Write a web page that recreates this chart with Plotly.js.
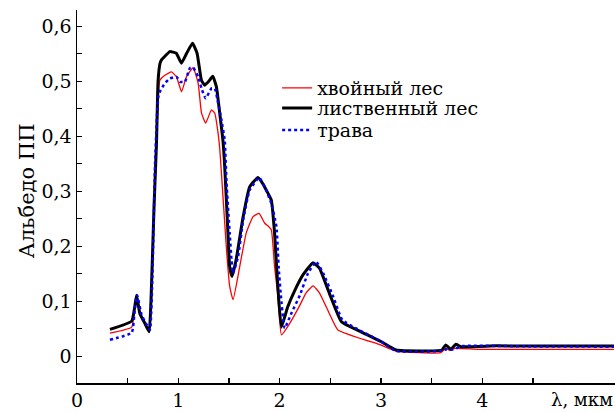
<!DOCTYPE html>
<html>
<head>
<meta charset="utf-8">
<script src="https://cdn.plot.ly/plotly-3.0.1.min.js"></script>
<style>html,body{margin:0;padding:0;background:#fff;}#chart{width:615px;height:412px;}</style>
</head>
<body>
<div id="chart"></div>
<script>
// Wavelength (µm) and albedo for each surface type
const xConifer = [0.325,0.54,0.57,0.59,0.62,0.67,0.713,0.735,0.76,0.785,0.80,0.818,0.867,0.933,0.982,1.032,1.08,1.146,1.196,1.229,1.27,1.327,1.36,1.393,1.41,1.443,1.476,1.507,1.54,1.606,1.67,1.738,1.797,1.853,1.886,1.918,1.95,1.98,2.018,2.10,2.2,2.26,2.33,2.394,2.49,2.575,3.0,3.15,3.59,3.64,3.68,3.73,3.97,5.3];
const yConifer = [0.042,0.053,0.09,0.11,0.076,0.058,0.043,0.10,0.26,0.38,0.46,0.502,0.511,0.517,0.508,0.481,0.508,0.525,0.496,0.442,0.424,0.448,0.442,0.405,0.375,0.284,0.193,0.127,0.103,0.163,0.224,0.254,0.26,0.242,0.237,0.23,0.163,0.115,0.039,0.06,0.093,0.115,0.128,0.115,0.078,0.048,0.0205,0.0096,0.0066,0.0145,0.011,0.0145,0.0127,0.0127];

const xDeciduous = [0.325,0.54,0.57,0.588,0.62,0.67,0.712,0.73,0.76,0.785,0.80,0.82,0.834,0.87,0.916,0.98,1.03,1.08,1.14,1.185,1.228,1.26,1.30,1.34,1.376,1.41,1.44,1.458,1.49,1.507,1.53,1.57,1.64,1.704,1.786,1.83,1.869,1.918,1.95,1.98,2.017,2.08,2.15,2.23,2.33,2.394,2.49,2.61,2.8,3.0,3.15,3.6,3.64,3.69,3.74,3.79,4.14,4.63,5.3];
const yDeciduous = [0.049,0.064,0.09,0.111,0.078,0.06,0.045,0.10,0.27,0.39,0.50,0.533,0.539,0.546,0.554,0.551,0.533,0.55,0.569,0.551,0.502,0.493,0.50,0.509,0.49,0.44,0.393,0.345,0.224,0.163,0.145,0.175,0.254,0.308,0.325,0.315,0.302,0.284,0.224,0.133,0.053,0.09,0.12,0.148,0.170,0.16,0.115,0.063,0.045,0.027,0.0115,0.0115,0.0205,0.0127,0.022,0.0175,0.019,0.0187,0.0187];

const xGrass = [0.325,0.54,0.57,0.594,0.638,0.68,0.72,0.745,0.77,0.79,0.803,0.825,0.867,0.916,0.982,1.02,1.065,1.114,1.146,1.196,1.229,1.27,1.327,1.36,1.393,1.425,1.458,1.476,1.507,1.525,1.54,1.59,1.64,1.704,1.797,1.853,1.918,1.968,1.99,2.01,2.05,2.115,2.2,2.28,2.36,2.43,2.53,2.62,3.0,3.15,3.58,3.65,3.70,3.81,4.5,5.3];
const yGrass = [0.03,0.043,0.085,0.111,0.075,0.06,0.048,0.15,0.35,0.44,0.472,0.484,0.496,0.505,0.508,0.499,0.499,0.524,0.525,0.508,0.487,0.469,0.487,0.487,0.46,0.43,0.393,0.315,0.224,0.175,0.151,0.181,0.248,0.302,0.325,0.308,0.278,0.236,0.163,0.115,0.051,0.078,0.111,0.151,0.172,0.151,0.108,0.066,0.027,0.0096,0.0096,0.013,0.012,0.0187,0.018,0.0175];

const seriesNames = ['хвойный лес','лиственный лес','трава'];
const xTickVals = [0,1,2,3,4];
const xTickText = ['0','1','2','3','4'];
const yTickVals = [0,0.1,0.2,0.3,0.4,0.5,0.6];
const yTickText = ['0','0,1','0,2','0,3','0,4','0,5','0,6'];

const FONT = "'DejaVu Serif', 'Liberation Serif', serif";

const traces = [
  {x:xConifer, y:yConifer, name:seriesNames[0], legend:'legend', mode:'lines', line:{color:'#ff0000', width:1.3, shape:'spline', smoothing:0.4}},
  {x:xDeciduous, y:yDeciduous, name:seriesNames[1], legend:'legend2', mode:'lines', line:{color:'#000000', width:3, shape:'spline', smoothing:0.4}},
  {x:xGrass, y:yGrass, name:seriesNames[2], legend:'legend3', mode:'lines', line:{color:'#0000ff', width:2.5, dash:'dot', shape:'spline', smoothing:0.4}}
];

function leg(y){
  return {x:0.372, y:y, xanchor:'left', yanchor:'middle', bgcolor:'rgba(0,0,0,0)',
          font:{family:FONT, size:19, color:'#000'}};
}

const layout = {
  width:615, height:412,
  margin:{l:77, r:0, t:10, b:29},
  paper_bgcolor:'#fff', plot_bgcolor:'#fff',
  font:{family:FONT, size:19, color:'#000'},
  showlegend:true,
  legend:leg(0.791),
  legend2:leg(0.737),
  legend3:leg(0.678),
  xaxis:{range:[0,5.31], showgrid:false, zeroline:false, showline:true, linecolor:'#000', linewidth:1.5,
         tickmode:'array', tickvals:xTickVals, ticktext:xTickText, ticks:'inside', ticklen:5, tickwidth:1.2, tickcolor:'#000',
         minor:{tickvals:[0.5,1.5,2.5,3.5,4.5], ticks:'inside', ticklen:5, tickwidth:1.2, tickcolor:'#000'},
         tickfont:{family:FONT, size:19}, fixedrange:true},
  yaxis:{range:[-0.0485,0.6296], showgrid:false, zeroline:false, showline:true, linecolor:'#000', linewidth:1.5,
         tickmode:'array', tickvals:yTickVals, ticktext:yTickText, ticks:'inside', ticklen:5, tickwidth:1.2, tickcolor:'#000',
         minor:{tickvals:[0.05,0.15,0.25,0.35,0.45,0.55], ticks:'inside', ticklen:5, tickwidth:1.2, tickcolor:'#000'},
         tickfont:{family:FONT, size:19}, fixedrange:true},
  annotations:[
    {xref:'paper', yref:'paper', x:-0.093, y:0.517, text:'Альбедо ПП', textangle:-90, showarrow:false,
     xanchor:'center', yanchor:'middle', font:{family:FONT, size:21, color:'#000'}},
    {xref:'paper', yref:'paper', x:1.0, y:-0.043, text:'λ, мкм', showarrow:false,
     xanchor:'right', yanchor:'middle', font:{family:FONT, size:18, color:'#000'}}
  ]
};

Plotly.newPlot('chart', traces, layout, {displayModeBar:false, staticPlot:true});
</script>
</body>
</html>
